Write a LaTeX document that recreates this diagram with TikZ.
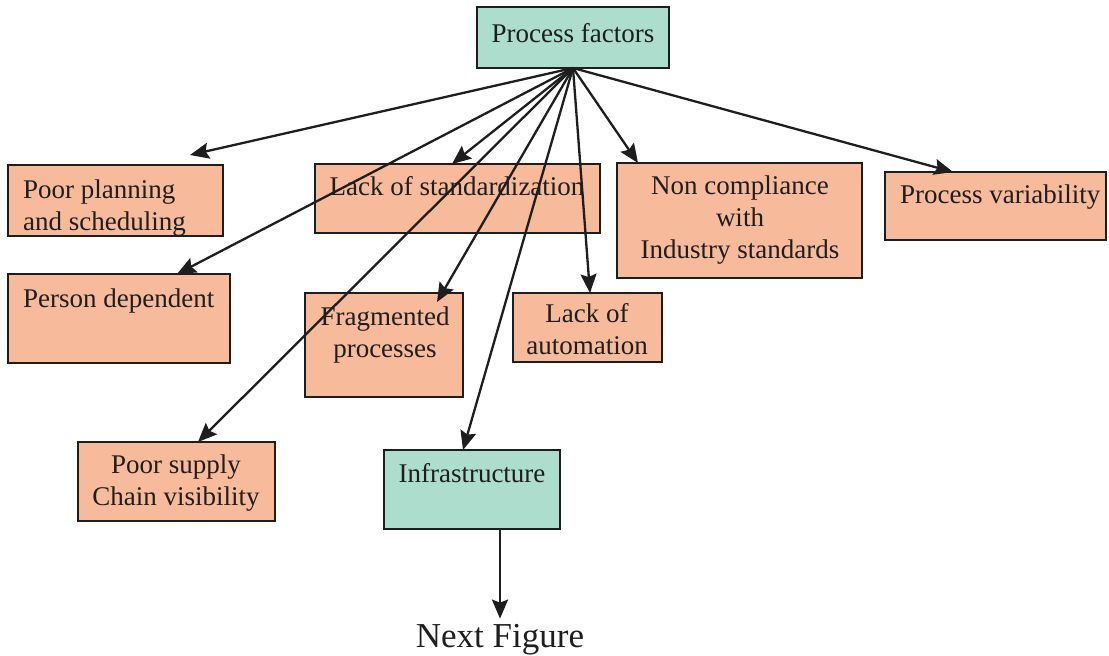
\documentclass[tikz,border=0pt]{standalone}
\usepackage{fontspec}
\setmainfont{Liberation Serif}
\usetikzlibrary{arrows.meta}

\definecolor{factorfill}{RGB}{247,186,155}
\definecolor{groupfill}{RGB}{172,221,205}
\definecolor{ink}{RGB}{30,30,30}

\tikzset{
  box/.style={draw=ink, line width=2.6pt, inner sep=0pt, outer sep=0pt, anchor=north west},
  factor/.style={box, fill=factorfill},
  group/.style={box, fill=groupfill},
  % multi-line labels are placed by the baseline of their last line
  txt/.style={inner sep=0pt, anchor=base, align=center, text=ink,
              font=\fontsize{27}{32}\selectfont},
  txtl/.style={txt, anchor=base west, align=left},
  link/.style={line width=2.3pt, draw=ink,
               -{Stealth[length=19pt,width=16pt,inset=3pt]}},
}

\begin{document}
\begin{tikzpicture}[x=1pt,y=-1pt]
\useasboundingbox (0,0) rectangle (1109,656);

% boxes
\node[group,  minimum width=192, minimum height=61]  (PF) at (477,7)   {};
\node[factor, minimum width=215, minimum height=71]  (PP) at (8,165)   {};
\node[factor, minimum width=285, minimum height=69]  (LS) at (315,164) {};
\node[factor, minimum width=245, minimum height=115] (NC) at (617,163) {};
\node[factor, minimum width=221, minimum height=68]  (PV) at (885,172) {};
\node[factor, minimum width=222, minimum height=89]  (PD) at (8,274)   {};
\node[factor, minimum width=158, minimum height=104] (FP) at (305,293) {};
\node[factor, minimum width=149, minimum height=69]  (LA) at (513,293) {};
\node[factor, minimum width=197, minimum height=79]  (PS) at (78,442)  {};
\node[group,  minimum width=176, minimum height=79]  (IN) at (384,450) {};

% labels
\node[txt]  (tPF) at (573,42)  {Process factors};
\node[txtl] (tPP) at (23,230)  {Poor planning\\and scheduling};
\node[txt]  (tLS) at (457,195) {Lack of standardization};
\node[txt]  (tNC) at (740,258) {Non compliance\\with\\Industry standards};
\node[txtl] (tPV) at (900,203) {Process variability};
\node[txtl] (tPD) at (23,307)  {Person dependent};
\node[txt]  (tFP) at (385,357) {Fragmented\\processes};
\node[txt]  (tLA) at (587,354) {Lack of\\automation};
\node[txt]  (tPS) at (176,505) {Poor supply\\Chain visibility};
\node[txt]  (tIN) at (472,482) {Infrastructure};
\node[txt, font=\fontsize{35}{40}\selectfont] (NX) at (500,647) {Next Figure};

% connectors
\draw[link] (PF.south) -- ([shift={(182,-10)}]PP.north west);
\draw[link] (PF.south) -- ([shift={(169,0)}]PD.north west);
\draw[link] (PF.south) -- ([shift={(137,0)}]LS.north west);
\draw[link] (PF.south) -- ([shift={(120,0)}]PS.north west);
\draw[link] (PF.south) -- ([shift={(132,9)}]FP.north west);
\draw[link] (PF.south) -- ([shift={(79,0)}]IN.north west);
\draw[link] (PF.south) -- ([shift={(77,0)}]LA.north west);
\draw[link] (PF.south) -- ([shift={(21,0)}]NC.north west);
\draw[link] (PF.south) -- ([shift={(68,0)}]PV.north west);
\draw[link] ([xshift=28pt]IN.south) -- ([yshift=5pt]NX.north);
\end{tikzpicture}
\end{document}
